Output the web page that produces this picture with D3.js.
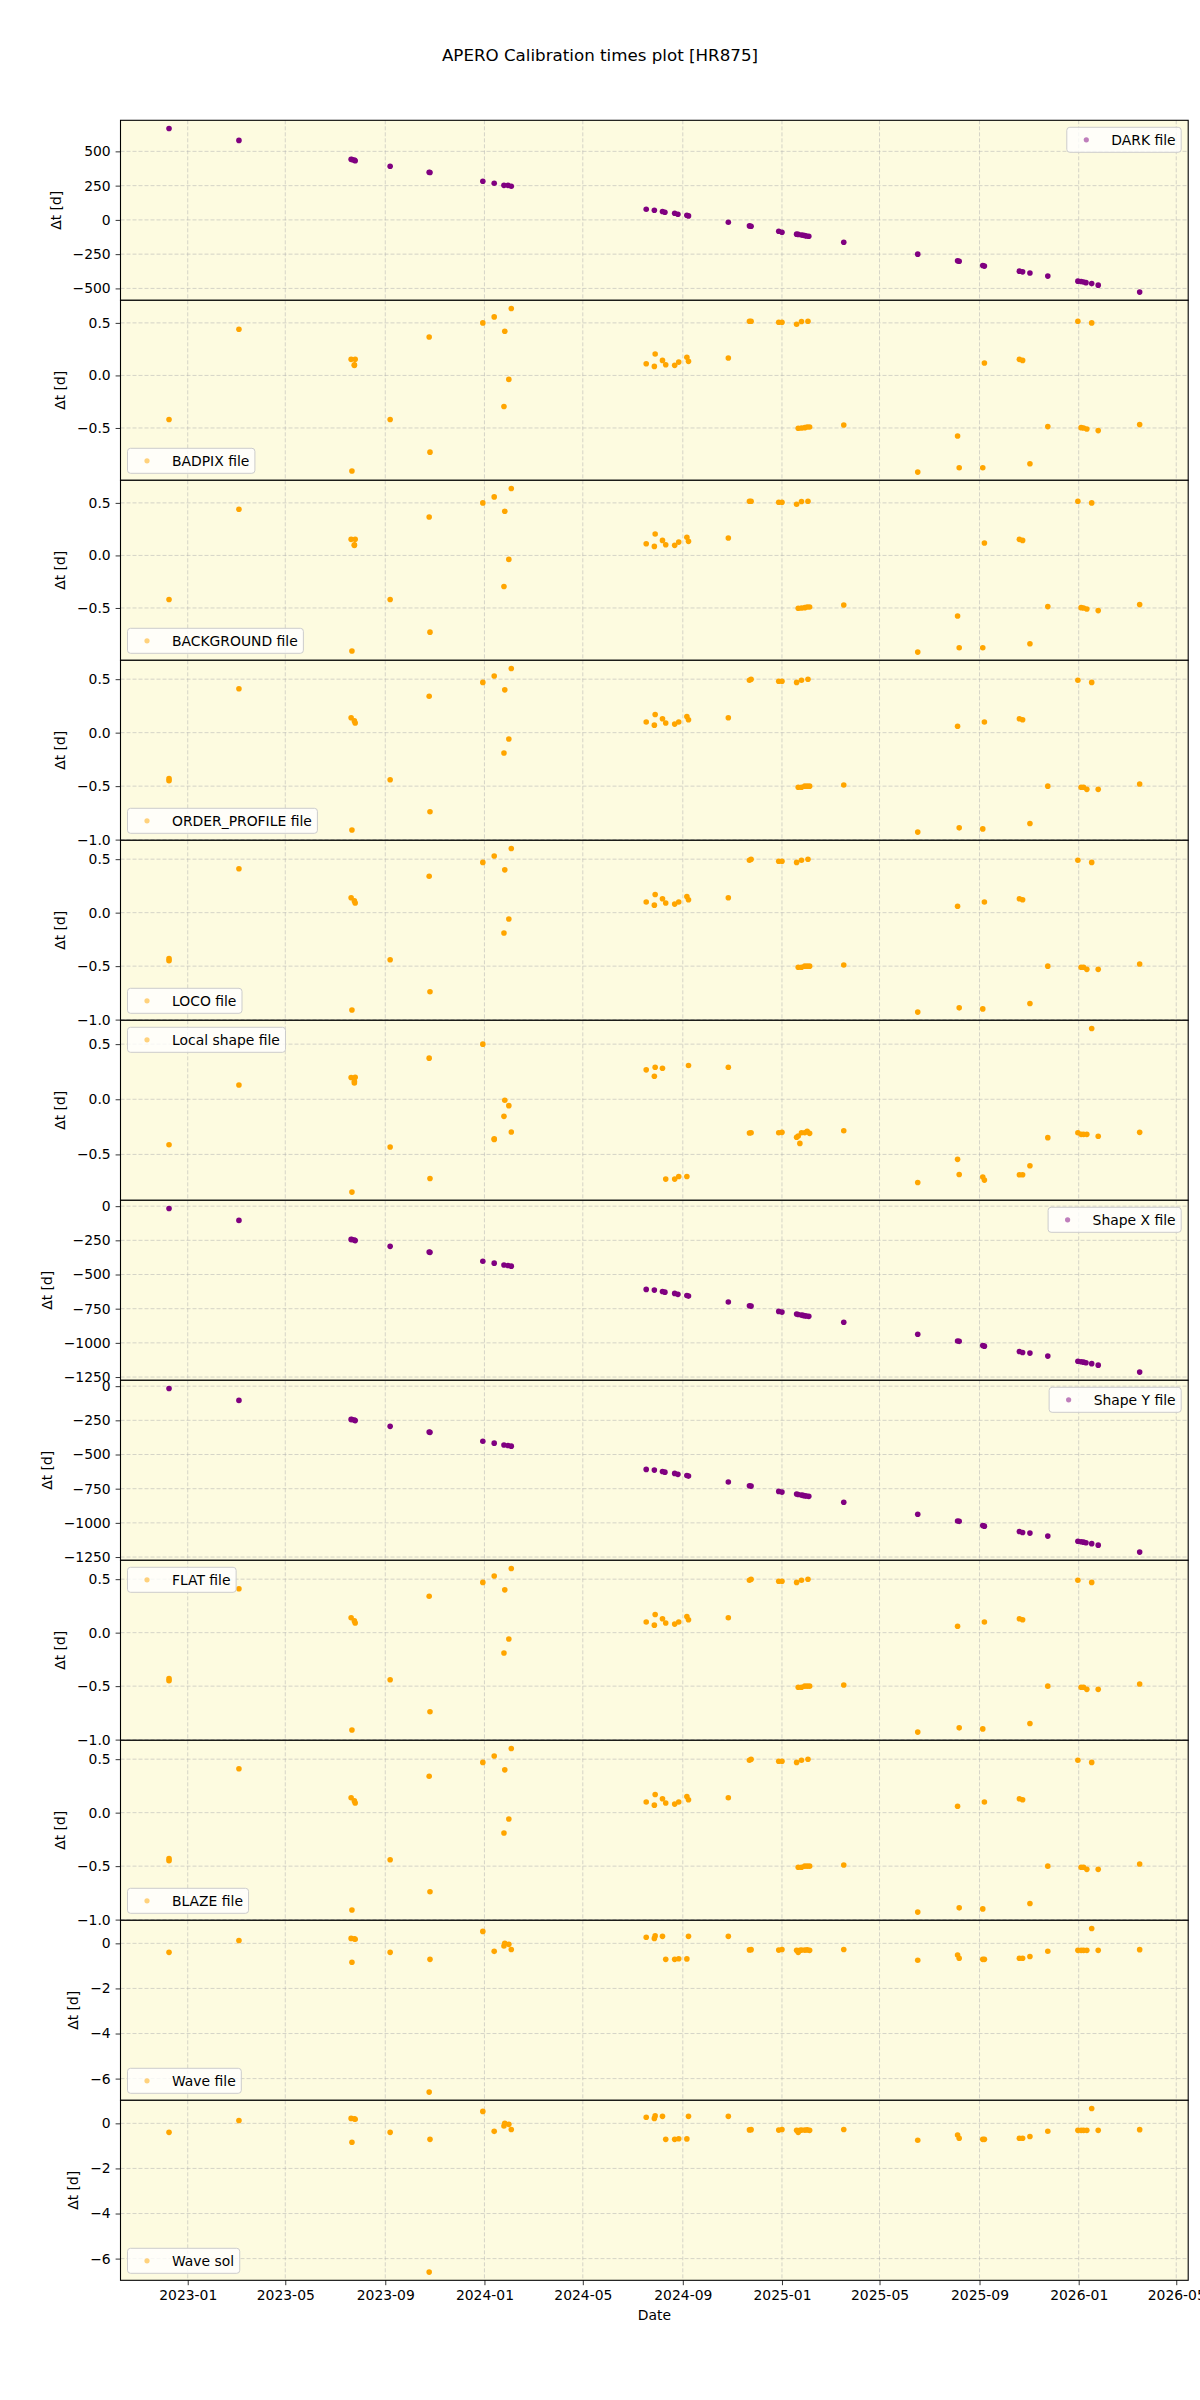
<!DOCTYPE html>
<html>
<head>
<meta charset="utf-8">
<script src="https://cdn.jsdelivr.net/npm/d3@7"></script>
<style>
  body { margin: 0; background: #fff; }
  text { font-family: "DejaVu Sans", sans-serif; }
</style>
</head>
<body>
<div id="chart"></div>
<script>
// ---- data ----
const darkTimes = [
  ["2022-12-09",667],["2023-03-05",580],["2023-07-21",442],["2023-07-22",440],["2023-07-25",436],["2023-07-26",432],
  ["2023-09-07",391],["2023-10-25",348],["2023-10-26",346],["2023-12-30",282],["2024-01-13",267],["2024-01-25",252],
  ["2024-01-30",252],["2024-02-03",245],["2024-07-18",78],["2024-07-28",70],["2024-08-07",61],["2024-08-10",56],
  ["2024-08-22",49],["2024-08-26",41],["2024-09-06",34],["2024-09-08",29],["2024-10-27",-17],["2024-11-22",-44],
  ["2024-11-24",-46],["2024-12-28",-83],["2025-01-01",-90],["2025-01-19",-104],["2025-01-21",-106],["2025-01-25",-110],
  ["2025-01-27",-112],["2025-01-29",-114],["2025-01-31",-117],["2025-02-03",-119],["2025-03-18",-163],["2025-06-17",-250],
  ["2025-08-05",-299],["2025-08-07",-302],["2025-09-05",-333],["2025-09-07",-337],["2025-10-20",-374],["2025-10-24",-379],
  ["2025-11-02",-388],["2025-11-24",-410],["2025-12-31",-447],["2026-01-04",-450],["2026-01-07",-453],["2026-01-10",-458],
  ["2026-01-17",-465],["2026-01-25",-476],["2026-03-17",-527]
];

const shapeTimes = [
  ["2022-12-09",-17],["2023-03-05",-104],["2023-07-21",-243],["2023-07-22",-244],["2023-07-25",-248],["2023-07-26",-252],
  ["2023-09-07",-294],["2023-10-25",-336],["2023-10-26",-338],["2023-12-30",-403],["2024-01-13",-417],["2024-01-25",-430],
  ["2024-01-30",-434],["2024-02-03",-439],["2024-07-18",-609],["2024-07-28",-614],["2024-08-07",-624],["2024-08-10",-629],
  ["2024-08-22",-638],["2024-08-26",-645],["2024-09-06",-653],["2024-09-08",-658],["2024-10-27",-701],["2024-11-22",-729],
  ["2024-11-24",-731],["2024-12-28",-770],["2025-01-01",-775],["2025-01-19",-789],["2025-01-21",-792],["2025-01-25",-796],
  ["2025-01-27",-799],["2025-01-29",-802],["2025-01-31",-804],["2025-02-03",-806],["2025-03-18",-849],["2025-06-17",-937],
  ["2025-08-05",-986],["2025-08-07",-989],["2025-09-05",-1019],["2025-09-07",-1024],["2025-10-20",-1063],["2025-10-24",-1070],
  ["2025-11-02",-1075],["2025-11-24",-1097],["2025-12-31",-1134],["2026-01-04",-1138],["2026-01-07",-1141],["2026-01-10",-1145],
  ["2026-01-17",-1152],["2026-01-25",-1163],["2026-03-17",-1214]
];

const badpixTimes = [
  ["2022-12-09",-0.42],["2023-03-05",0.44],["2023-07-21",0.153],["2023-07-22",-0.91],["2023-07-25",0.096],["2023-07-25",0.10],
  ["2023-07-26",0.153],["2023-09-07",-0.42],["2023-10-25",0.366],["2023-10-26",-0.73],["2023-12-30",0.50],["2024-01-13",0.557],
  ["2024-01-25",-0.296],["2024-01-26",0.42],["2024-01-31",-0.038],["2024-02-03",0.637],
  ["2024-07-18",0.111],["2024-07-28",0.086],["2024-07-29",0.204],["2024-08-07",0.143],["2024-08-11",0.102],["2024-08-22",0.096],
  ["2024-08-27",0.127],["2024-09-06",0.172],["2024-09-08",0.134],["2024-10-27",0.166],["2024-11-22",0.516],["2024-11-24",0.516],
  ["2024-12-28",0.506],["2025-01-01",0.506],["2025-01-19",0.487],["2025-01-21",-0.503],["2025-01-25",0.513],["2025-01-25",-0.50],
  ["2025-01-29",-0.497],["2025-02-01",-0.49],["2025-02-02",0.516],["2025-02-04",-0.49],["2025-03-18",-0.471],["2025-06-17",-0.92],
  ["2025-08-05",-0.576],["2025-08-07",-0.879],["2025-09-05",-0.879],["2025-09-07",0.118],["2025-10-20",0.153],["2025-10-24",0.143],
  ["2025-11-02",-0.841],["2025-11-24",-0.487],["2025-12-31",0.516],["2026-01-04",-0.497],["2026-01-07",-0.50],["2026-01-11",-0.51],
  ["2026-01-17",0.50],["2026-01-25",-0.525],["2026-03-17",-0.468]
];

const orderTimes = [
  ["2022-12-09",-0.43],["2022-12-09",-0.45],["2023-03-05",0.41],["2023-07-21",0.14],["2023-07-22",-0.91],["2023-07-25",0.11],
  ["2023-07-26",0.09],["2023-09-07",-0.44],["2023-10-25",0.34],["2023-10-26",-0.74],["2023-12-30",0.47],["2024-01-13",0.53],
  ["2024-01-25",-0.19],["2024-01-26",0.40],["2024-01-31",-0.06],["2024-02-03",0.60],
  ["2024-07-18",0.10],["2024-07-28",0.07],["2024-07-29",0.17],["2024-08-07",0.13],["2024-08-11",0.09],["2024-08-22",0.08],
  ["2024-08-27",0.10],["2024-09-06",0.15],["2024-09-08",0.12],["2024-10-27",0.14],["2024-11-22",0.49],["2024-11-24",0.50],
  ["2024-12-28",0.48],["2025-01-01",0.48],["2025-01-19",0.47],["2025-01-21",-0.51],["2025-01-25",0.49],["2025-01-25",-0.51],
  ["2025-01-29",-0.50],["2025-02-01",-0.50],["2025-02-02",0.50],["2025-02-04",-0.50],["2025-03-18",-0.49],["2025-06-17",-0.93],
  ["2025-08-05",0.06],["2025-08-07",-0.89],["2025-09-05",-0.90],["2025-09-07",0.10],["2025-10-20",0.13],["2025-10-24",0.12],
  ["2025-11-02",-0.85],["2025-11-24",-0.50],["2025-12-31",0.49],["2026-01-04",-0.51],["2026-01-07",-0.51],["2026-01-11",-0.53],
  ["2026-01-17",0.47],["2026-01-25",-0.53],["2026-03-17",-0.48]
];

const localShapeTimes = [
  ["2022-12-09",-0.412],["2023-03-05",0.130],["2023-07-21",0.197],["2023-07-22",-0.842],["2023-07-25",0.164],["2023-07-25",0.148],
  ["2023-07-26",0.20],["2023-09-07",-0.433],["2023-10-25",0.373],["2023-10-26",-0.718],["2023-12-30",0.5],["2024-01-13",-0.358],
  ["2024-01-13",-0.365],["2024-01-25",-0.155],["2024-01-26",-0.009],["2024-01-31",-0.058],["2024-02-03",-0.297],
  ["2024-07-18",0.267],["2024-07-28",0.209],["2024-07-29",0.291],["2024-08-07",0.282],["2024-08-11",-0.724],["2024-08-22",-0.724],
  ["2024-08-27",-0.70],["2024-09-06",-0.70],["2024-09-08",0.306],["2024-10-27",0.291],["2024-11-22",-0.306],["2024-11-24",-0.303],
  ["2024-12-28",-0.303],["2025-01-01",-0.300],["2025-01-19",-0.345],["2025-01-21",-0.333],["2025-01-23",-0.40],["2025-01-25",-0.303],
  ["2025-01-29",-0.303],["2025-02-01",-0.29],["2025-02-04",-0.309],["2025-03-18",-0.285],["2025-06-17",-0.755],["2025-08-05",-0.545],
  ["2025-08-07",-0.682],["2025-09-05",-0.706],["2025-09-07",-0.733],["2025-10-20",-0.685],["2025-10-24",-0.685],["2025-11-02",-0.603],
  ["2025-11-24",-0.348],["2025-12-31",-0.303],["2026-01-04",-0.318],["2026-01-07",-0.318],["2026-01-11",-0.318],["2026-01-17",0.642],
  ["2026-01-25",-0.336],["2026-03-17",-0.30]
];

const waveTimes = [
  ["2022-12-09",-0.40],["2023-03-05",0.13],["2023-07-21",0.22],["2023-07-22",-0.84],["2023-07-25",0.20],["2023-07-26",0.18],
  ["2023-09-07",-0.40],["2023-10-25",-6.6],["2023-10-26",-0.71],["2023-12-30",0.53],["2024-01-13",-0.355],["2024-01-25",-0.12],
  ["2024-01-26",0.0],["2024-01-31",-0.044],["2024-02-03",-0.27],
  ["2024-07-18",0.27],["2024-07-28",0.22],["2024-07-29",0.33],["2024-08-07",0.31],["2024-08-11",-0.71],["2024-08-22",-0.71],
  ["2024-08-27",-0.68],["2024-09-06",-0.69],["2024-09-08",0.31],["2024-10-27",0.31],["2024-11-22",-0.29],["2024-11-24",-0.28],
  ["2024-12-28",-0.30],["2025-01-01",-0.27],["2025-01-19",-0.31],["2025-01-21",-0.40],["2025-01-23",-0.31],["2025-01-25",-0.30],
  ["2025-01-29",-0.30],["2025-02-01",-0.29],["2025-02-04",-0.31],["2025-03-18",-0.27],["2025-06-17",-0.75],["2025-08-05",-0.52],
  ["2025-08-07",-0.66],["2025-09-05",-0.71],["2025-09-07",-0.71],["2025-10-20",-0.66],["2025-10-24",-0.66],["2025-11-02",-0.58],
  ["2025-11-24",-0.35],["2025-12-31",-0.31],["2026-01-04",-0.31],["2026-01-07",-0.31],["2026-01-11",-0.31],["2026-01-17",0.66],
  ["2026-01-25",-0.31],["2026-03-17",-0.28]
];

const darkTicks = [-500, -250, 0, 250, 500];
const shapeTicks = [-1250, -1000, -750, -500, -250, 0];
const fracTicks = [-1.0, -0.5, 0.0, 0.5];
const waveTicks = [-6, -4, -2, 0];
const xTickLabels = ["2023-01","2023-05","2023-09","2024-01","2024-05","2024-09","2025-01","2025-05","2025-09","2026-01","2026-05"];

const panels = [
  { label: "DARK file",          data: darkTimes,       color: "purple", legend: "upper right", ticks: darkTicks,  fmt: "d" },
  { label: "BADPIX file",        data: badpixTimes,     color: "orange", legend: "lower left",  ticks: fracTicks,  fmt: ".1f" },
  { label: "BACKGROUND file",    data: badpixTimes,     color: "orange", legend: "lower left",  ticks: fracTicks,  fmt: ".1f" },
  { label: "ORDER_PROFILE file", data: orderTimes,      color: "orange", legend: "lower left",  ticks: fracTicks,  fmt: ".1f" },
  { label: "LOCO file",          data: orderTimes,      color: "orange", legend: "lower left",  ticks: fracTicks,  fmt: ".1f" },
  { label: "Local shape file",   data: localShapeTimes, color: "orange", legend: "upper left",  ticks: fracTicks,  fmt: ".1f" },
  { label: "Shape X file",       data: shapeTimes,      color: "purple", legend: "upper right", ticks: shapeTicks, fmt: "d" },
  { label: "Shape Y file",       data: shapeTimes,      color: "purple", legend: "upper right", ticks: shapeTicks, fmt: "d" },
  { label: "FLAT file",          data: orderTimes,      color: "orange", legend: "upper left",  ticks: fracTicks,  fmt: ".1f" },
  { label: "BLAZE file",         data: orderTimes,      color: "orange", legend: "lower left",  ticks: fracTicks,  fmt: ".1f" },
  { label: "Wave file",          data: waveTimes,       color: "orange", legend: "lower left",  ticks: waveTicks,  fmt: "d" },
  { label: "Wave sol",           data: waveTimes,       color: "orange", legend: "lower left",  ticks: waveTicks,  fmt: "d" }
];

// ---- layout ----
const width = 1200, height = 2400;
const left = 120.5, right = 1188.2, top0 = 120.3, panelH = 180;
const plotW = right - left;
const fontSize = 13.9;
const parseDay = d3.utcParse("%Y-%m-%d");
const parseMonth = d3.utcParse("%Y-%m");

const svg = d3.select("#chart").append("svg")
  .attr("width", width)
  .attr("height", height);

svg.append("rect").attr("width", width).attr("height", height).attr("fill", "#fff");

svg.append("text")
  .attr("x", width / 2)
  .attr("y", 61)
  .attr("text-anchor", "middle")
  .attr("font-size", "16.7px")
  .attr("fill", "#000")
  .text("APERO Calibration times plot [HR875]");

const allDates = panels.flatMap(p => p.data.map(d => parseDay(d[0])));
const [dMin, dMax] = d3.extent(allDates);
const dPad = (dMax - dMin) * 0.05;
const x = d3.scaleUtc()
  .domain([new Date(+dMin - dPad), new Date(+dMax + dPad)])
  .range([0, plotW]);
const xTicks = xTickLabels.map(parseMonth);

panels.forEach((p, i) => {
  const top = top0 + i * panelH;
  const g = svg.append("g").attr("transform", `translate(${left},${top})`);

  const ext = d3.extent(p.data, d => d[1]);
  const pad = (ext[1] - ext[0]) * 0.05;
  const y = d3.scaleLinear().domain([ext[0] - pad, ext[1] + pad]).range([panelH, 0]);
  const yTicks = p.ticks.filter(t => t >= y.domain()[0] && t <= y.domain()[1]);

  g.append("rect")
    .attr("width", plotW)
    .attr("height", panelH)
    .attr("fill", "#fdfbe0");

  // grid
  g.append("g").selectAll("line")
    .data(xTicks)
    .join("line")
    .attr("x1", d => x(d)).attr("x2", d => x(d))
    .attr("y1", 0).attr("y2", panelH)
    .attr("stroke", "#b0b0b0").attr("stroke-opacity", 0.65)
    .attr("stroke-width", 0.8).attr("stroke-dasharray", "4,2");
  g.append("g").selectAll("line")
    .data(yTicks)
    .join("line")
    .attr("x1", 0).attr("x2", plotW)
    .attr("y1", d => y(d)).attr("y2", d => y(d))
    .attr("stroke", "#b0b0b0").attr("stroke-opacity", 0.65)
    .attr("stroke-width", 0.8).attr("stroke-dasharray", "4,2");

  // points
  g.append("g").selectAll("circle")
    .data(p.data)
    .join("circle")
    .attr("cx", d => x(parseDay(d[0])))
    .attr("cy", d => y(d[1]))
    .attr("r", 2.8)
    .attr("fill", p.color);

  // y axis
  const yAxis = g.append("g")
    .call(d3.axisLeft(y).tickValues(yTicks).tickFormat(d3.format(p.fmt)).tickSize(4.9).tickPadding(4.9));
  yAxis.select(".domain").remove();
  yAxis.selectAll("text").attr("font-size", fontSize + "px").attr("font-family", "DejaVu Sans").attr("fill", "#000");
  yAxis.selectAll("line").attr("stroke", "#000").attr("stroke-width", 0.8);
  const bb = yAxis.node().getBBox();

  g.append("text")
    .attr("transform", `translate(${bb.x - 12},${panelH / 2}) rotate(-90)`)
    .attr("text-anchor", "middle")
    .attr("font-size", fontSize + "px")
    .attr("fill", "#000")
    .text("Δt [d]");

  // frame
  g.append("rect")
    .attr("width", plotW)
    .attr("height", panelH)
    .attr("fill", "none")
    .attr("stroke", "#000")
    .attr("stroke-width", 1.1);

  // legend
  const lg = g.append("g");
  const lbox = lg.append("rect")
    .attr("fill", "#fff").attr("fill-opacity", 0.8)
    .attr("stroke", "#cccccc").attr("stroke-width", 1)
    .attr("rx", 3).attr("ry", 3);
  const ltext = lg.append("text")
    .attr("font-size", fontSize + "px")
    .attr("fill", "#000")
    .text(p.label);
  const tw = ltext.node().getComputedTextLength();
  const boxW = 5.6 + 27.8 + 11.1 + tw + 5.6;
  const boxH = 25;
  const bx = p.legend === "upper right" ? plotW - 7 - boxW : 7;
  const by = p.legend === "lower left" ? panelH - 7 - boxH : 7;
  lbox.attr("x", bx).attr("y", by).attr("width", boxW).attr("height", boxH);
  lg.append("circle")
    .attr("cx", bx + 5.6 + 13.9)
    .attr("cy", by + boxH / 2)
    .attr("r", 2.6)
    .attr("fill", p.color)
    .attr("fill-opacity", 0.5);
  ltext.attr("x", bx + 5.6 + 27.8 + 11.1).attr("y", by + boxH / 2 + 5);

  // bottom axis only on last panel
  if (i === panels.length - 1) {
    const xAxis = g.append("g")
      .attr("transform", `translate(0,${panelH})`)
      .call(d3.axisBottom(x).tickValues(xTicks).tickFormat(d3.utcFormat("%Y-%m")).tickSize(4.9).tickPadding(4.9));
    xAxis.select(".domain").remove();
    xAxis.selectAll("text").attr("font-size", fontSize + "px").attr("font-family", "DejaVu Sans").attr("fill", "#000");
    xAxis.selectAll("line").attr("stroke", "#000").attr("stroke-width", 0.8);

    g.append("text")
      .attr("x", plotW / 2)
      .attr("y", panelH + 40)
      .attr("text-anchor", "middle")
      .attr("font-size", fontSize + "px")
      .attr("fill", "#000")
      .text("Date");
  }
});
</script>
</body>
</html>
